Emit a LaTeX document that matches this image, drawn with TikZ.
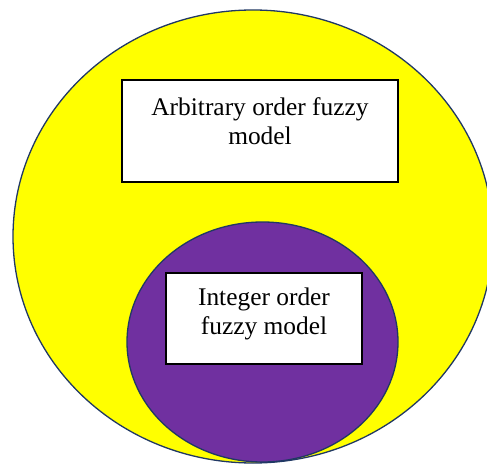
\documentclass[tikz,border=0pt]{standalone}
\usepackage{fontspec}
\setmainfont{Liberation Serif}
\usetikzlibrary{shapes.geometric}
\definecolor{setyellow}{HTML}{FFFF00}
\definecolor{setpurple}{HTML}{7030A0}
\definecolor{setline}{HTML}{203864}
\begin{document}
\begin{tikzpicture}[x=1pt,y=-1pt,
    set node/.style={ellipse,draw=setline,line width=1.3pt,inner sep=0pt},
    label box/.style={rectangle,draw=black,fill=white,line width=1.3pt,inner sep=0pt},
    label text/.style={align=center,font=\fontsize{25.4}{29}\selectfont,inner sep=0pt}]
        \useasboundingbox (0,0) rectangle (487,465);
        \clip (0,0) rectangle (487,465);

        \node[set node, fill=setyellow, minimum width=480pt, minimum height=453pt] at (253, 236.5) (arbitrary) {};
        \node[set node, fill=setpurple, minimum width=271pt, minimum height=240pt] at (262.5, 342) (integer) {};

        \node[label box, minimum width=276pt, minimum height=102pt] at (260, 131) (arbitrary box) {};
        \node[label text] at (260, 121.5) (arbitrary label) {Arbitrary order fuzzy\\model};

        \node[label box, minimum width=196pt, minimum height=91pt] at (264, 318.5) (integer box) {};
        \node[label text] at (264, 314) (integer label) {Integer order\\fuzzy model};
\end{tikzpicture}
\end{document}
